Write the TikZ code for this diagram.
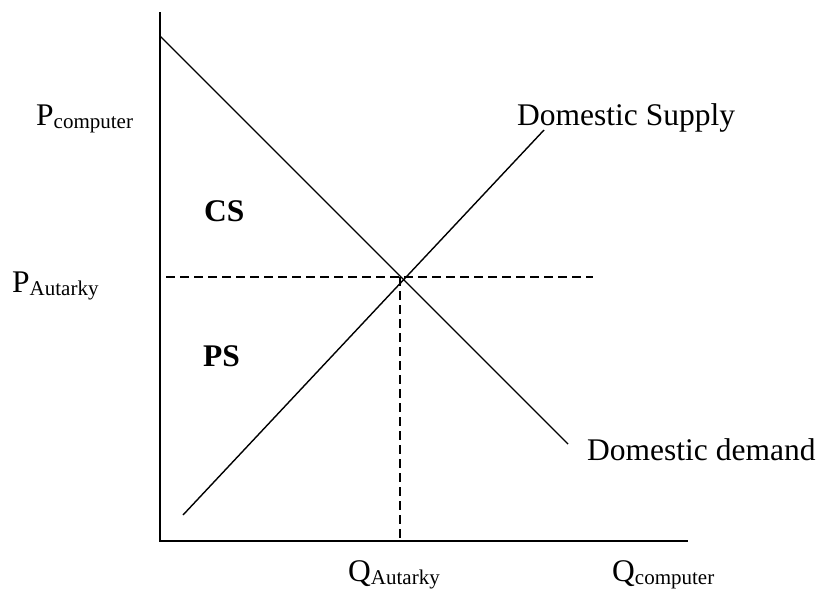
\documentclass[tikz,border=0pt]{standalone}
\usepackage{fontspec}
\setmainfont{Liberation Serif}
\newcommand{\bigf}{\fontsize{31.5}{36}\selectfont}
\newcommand{\subf}[1]{\raisebox{-3.5pt}{\fontsize{21}{24}\selectfont #1}}
\begin{document}
\begin{tikzpicture}[x=1pt,y=-1pt,
  lbl/.style={anchor=base west,inner sep=0pt,font=\bigf},
  axisline/.style={line width=2pt},
  curve/.style={line width=1.4pt},
  guide/.style={line width=1.4pt,dash pattern=on 9pt off 5pt}]
\useasboundingbox (0,0) rectangle (819,590);
% axes
\coordinate (ytop) at (160,12);
\coordinate (O) at (160,541);
\coordinate (xend) at (688,541);
\draw[axisline] (ytop) -- (O) -- (xend);
% curves
\coordinate (dtop) at (160,36);
\coordinate (dend) at (568,444);
\coordinate (sbot) at (183,515);
\coordinate (stop) at (544,130);
\draw[curve] (dtop) -- (dend);
\draw[curve] (sbot) -- (stop);
% guides
\coordinate (hl) at (166,277);
\coordinate (hr) at (593,277);
\coordinate (E) at (400,277);
\coordinate (Eb) at (400,541);
\draw[guide] (hl) -- (hr);
\draw[guide] (E) -- (Eb);
% labels
\node[lbl] (pc) at (36,125) {P\subf{computer}};
\node[lbl] (pa) at (12,292) {P\subf{Autarky}};
\node[lbl,font=\bigf\bfseries] (cs) at (204,221) {CS};
\node[lbl,font=\bigf\bfseries] (ps) at (203,366) {PS};
\node[lbl] (qa) at (348,581) {Q\subf{Autarky}};
\node[lbl] (qc) at (612,581) {Q\subf{computer}};
\node[lbl] (ds) at (517,125) {Domestic Supply};
\node[lbl] (dd) at (587,460) {Domestic demand};
\end{tikzpicture}
\end{document}
